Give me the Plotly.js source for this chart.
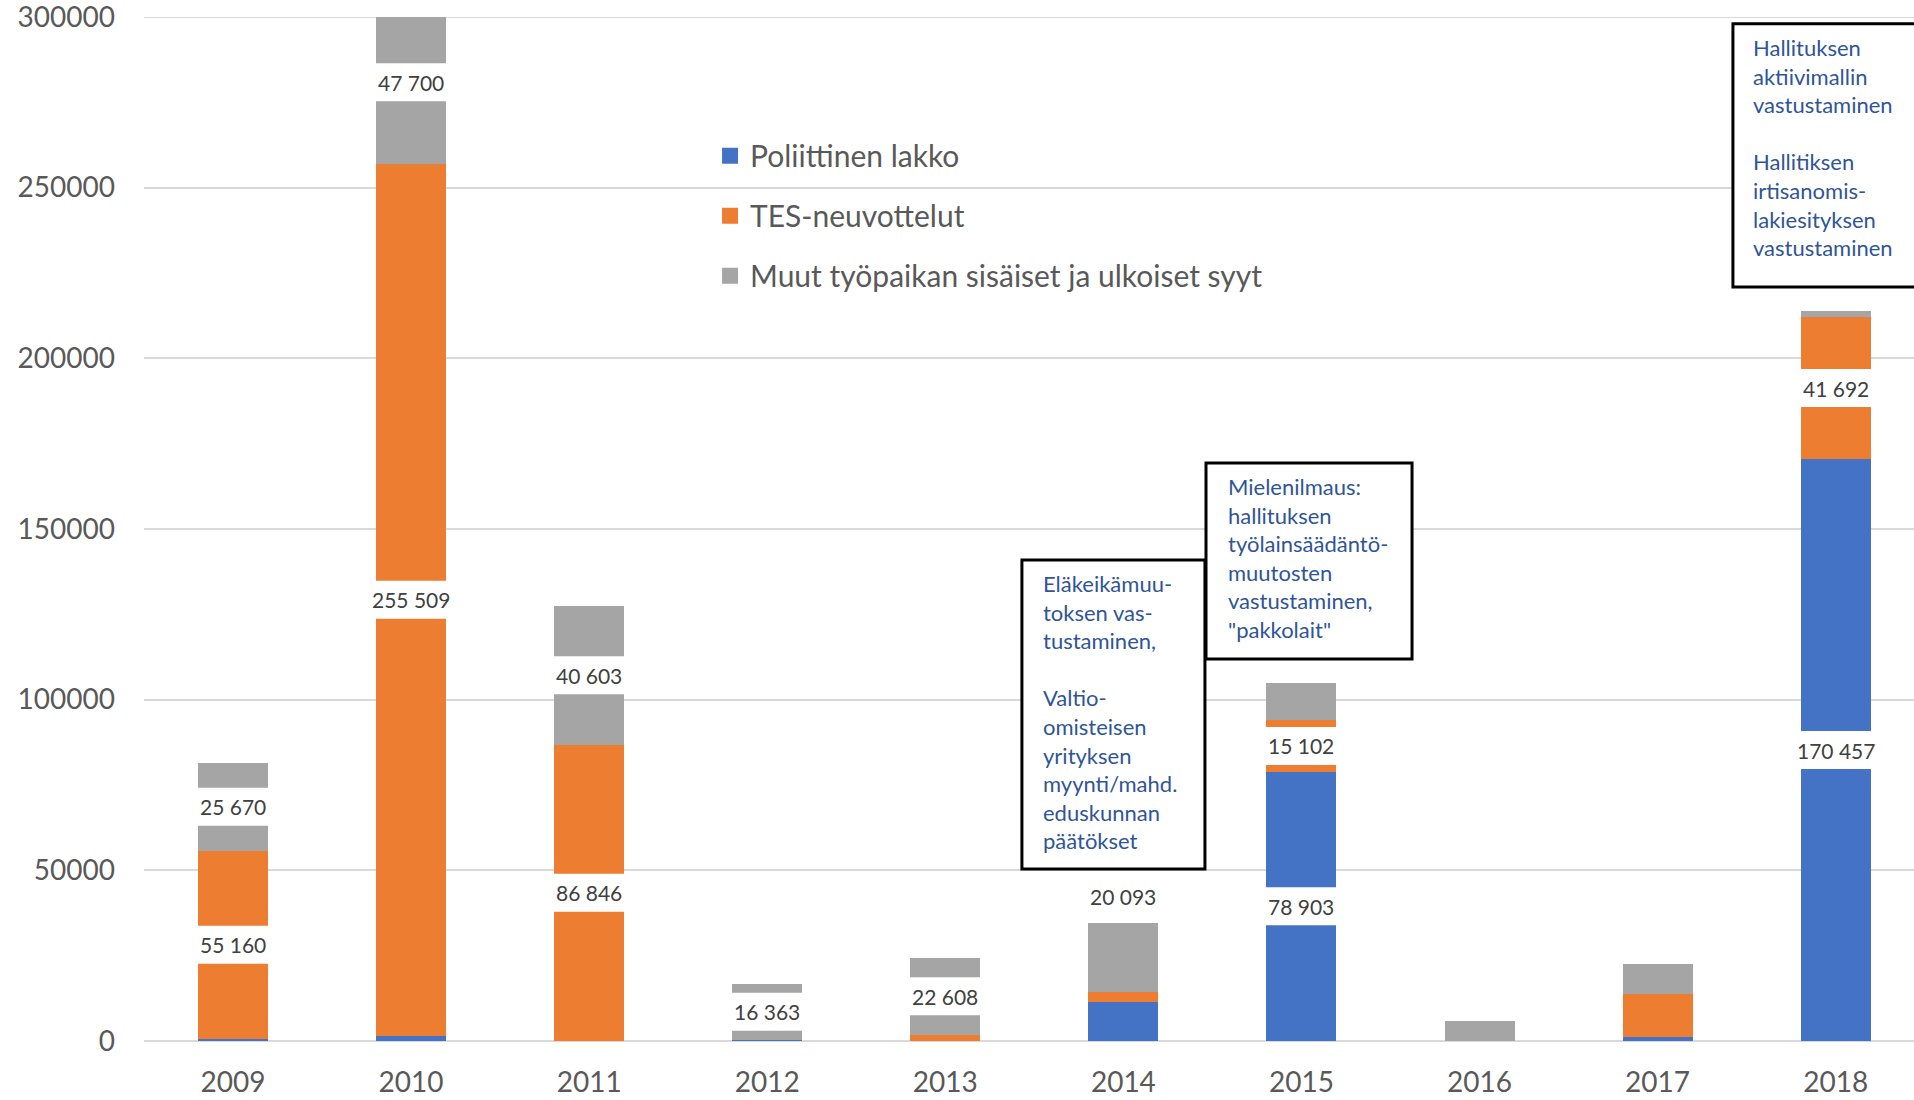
<!DOCTYPE html>
<html>
<head>
<meta charset="utf-8">
<script src="https://cdn.plot.ly/plotly-3.0.1.min.js"></script>
<style>html,body{margin:0;padding:0;background:#fff;}#chart{width:1914px;height:1100px;}</style>
</head>
<body>
<div id="chart"></div>
<script>
const years = ['2009','2010','2011','2012','2013','2014','2015','2016','2017','2018'];
const seriesNames = ['Poliittinen lakko','TES-neuvottelut','Muut työpaikan sisäiset ja ulkoiset syyt'];
const blue   = [600, 1500, 0, 400, 0, 11400, 78903, 0, 1200, 170457];
const orange = [55160, 255509, 86846, 0, 1800, 3000, 15102, 0, 12600, 41692];
const gray   = [25670, 47700, 40603, 16363, 22608, 20093, 10900, 5900, 8800, 1800];
// which segments carry a value label ('in' = inside with white gap, 'top' = above bar)
const blueLabel   = ['', '', '', '', '', '', 'in', '', '', 'in'];
const orangeLabel = ['in', 'in', 'in', '', '', '', 'in', '', '', 'in'];
const grayLabel   = ['in', 'in', 'in', 'in', 'in', 'top', '', '', '', ''];
const yTicks = [0, 50000, 100000, 150000, 200000, 250000, 300000];
const yMax = 300000;

const noteTexts = [
  ['Eläkeikämuu-','toksen vas-','tustaminen,','','Valtio-','omisteisen','yrityksen','myynti/mahd.','eduskunnan','päätökset'],
  ['Mielenilmaus:','hallituksen','työlainsäädäntö-','muutosten','vastustaminen,','"pakkolait"'],
  ['Hallituksen','aktiivimallin','vastustaminen','','Hallitiksen','irtisanomis-','lakiesityksen','vastustaminen']
];

const colors = ['#4472C4', '#ED7D31', '#A5A5A5'];
const values = [blue, orange, gray];
const labelFlags = [blueLabel, orangeLabel, grayLabel];

function fmt(v){ return String(Math.round(v)).replace(/\B(?=(\d{3})+(?!\d))/g, ' '); }

const traces = values.map((vals, k) => ({
  type: 'bar', x: years, y: vals, name: seriesNames[k],
  showlegend: false,
  marker: {color: colors[k], line: {width: 0}},
  hoverinfo: 'skip'
}));
// legend entries (square markers)
seriesNames.forEach((nm, k) => {
  traces.push({type: 'scatter', mode: 'markers', x: [null], y: [null], name: nm,
    legendgroup: 'g' + k, showlegend: true,
    marker: {symbol: 'square', size: 18, color: colors[k]}, hoverinfo: 'skip'});
});

const shapes = [
  // top gridline at the axis maximum (Plotly skips gridlines on the plot edge)
  {type: 'line', layer: 'below', xref: 'paper', yref: 'y', x0: 0, x1: 1, y0: yMax, y1: yMax,
   line: {color: '#D9D9D9', width: 2}}
];
const annotations = [];
years.forEach((yr, i) => {
  let base = 0;
  const total = blue[i] + orange[i] + gray[i];
  values.forEach((vals, k) => {
    const v = vals[i];
    const flag = labelFlags[k][i];
    const center = base + v / 2;
    if (flag === 'in') {
      shapes.push({type: 'rect', layer: 'above', xref: 'x', yref: 'y',
        xsizemode: 'pixel', ysizemode: 'pixel', xanchor: i, yanchor: center,
        x0: -37, x1: 37, y0: -19, y1: 19, fillcolor: '#ffffff', line: {width: 0}});
      annotations.push({xref: 'x', yref: 'y', x: i, y: center, text: fmt(v), showarrow: false,
        xanchor: 'center', yanchor: 'middle',
        font: {family: 'Lato, sans-serif', size: 21, color: '#404040'}});
    } else if (flag === 'top') {
      annotations.push({xref: 'x', yref: 'y', x: i, y: total, text: fmt(v), showarrow: false,
        xanchor: 'center', yanchor: 'bottom', yshift: 12,
        font: {family: 'Lato, sans-serif', size: 21, color: '#404040'}});
    }
    base += v;
  });
});

// callout boxes (paper coordinates)
const boxes = [
  {x0: 0.4960, x1: 0.5994, y0: 0.1680, y1: 0.4697, tx: 0.5073, ty: 0.4610},
  {x0: 0.6000, x1: 0.7164, y0: 0.3730, y1: 0.5645, tx: 0.6119, ty: 0.5557},
  {x0: 0.8977, x1: 1.0600, y0: 0.7363, y1: 0.9935, tx: 0.9085, ty: 0.9844}
];
boxes.forEach((b, j) => {
  shapes.push({type: 'rect', layer: 'above', xref: 'paper', yref: 'paper',
    x0: b.x0, x1: b.x1, y0: b.y0, y1: b.y1, fillcolor: '#ffffff',
    line: {color: '#000000', width: 3}});
  annotations.push({xref: 'paper', yref: 'paper', x: b.tx, y: b.ty, xanchor: 'left', yanchor: 'top',
    align: 'left', showarrow: false, borderpad: 0, text: noteTexts[j].join('<br>'),
    font: {family: 'Lato, sans-serif', size: 22, color: '#2F5597'}});
});

const layout = {
  width: 1914, height: 1100,
  margin: {l: 144, r: 0, t: 17, b: 59, pad: 0},
  paper_bgcolor: '#ffffff', plot_bgcolor: '#ffffff',
  barmode: 'stack', bargap: 0.607,
  showlegend: true,
  legend: {x: 0.3198, y: 0.890, xanchor: 'left', yanchor: 'top', orientation: 'v',
    traceorder: 'grouped', tracegroupgap: 18, bgcolor: 'rgba(0,0,0,0)', itemsizing: 'trace',
    font: {family: 'Lato, sans-serif', size: 30, color: '#595959'}},
  xaxis: {type: 'category', range: [-0.5, 9.44], showgrid: false, zeroline: false, showline: false,
    ticks: '', ticklabelstandoff: 22, fixedrange: true,
    tickfont: {family: 'Lato, sans-serif', size: 28, color: '#595959'}},
  yaxis: {range: [0, yMax], tickvals: yTicks, tickformat: 'd', showgrid: true,
    ticklabeloverflow: 'allow',
    gridcolor: '#D9D9D9', gridwidth: 2, zeroline: true, zerolinecolor: '#D9D9D9', zerolinewidth: 2,
    showline: false, ticks: '', ticklabelstandoff: 28, fixedrange: true,
    tickfont: {family: 'Lato, sans-serif', size: 28, color: '#595959'}},
  shapes: shapes,
  annotations: annotations
};

Plotly.newPlot('chart', traces, layout, {staticPlot: true, displayModeBar: false});
</script>
</body>
</html>
